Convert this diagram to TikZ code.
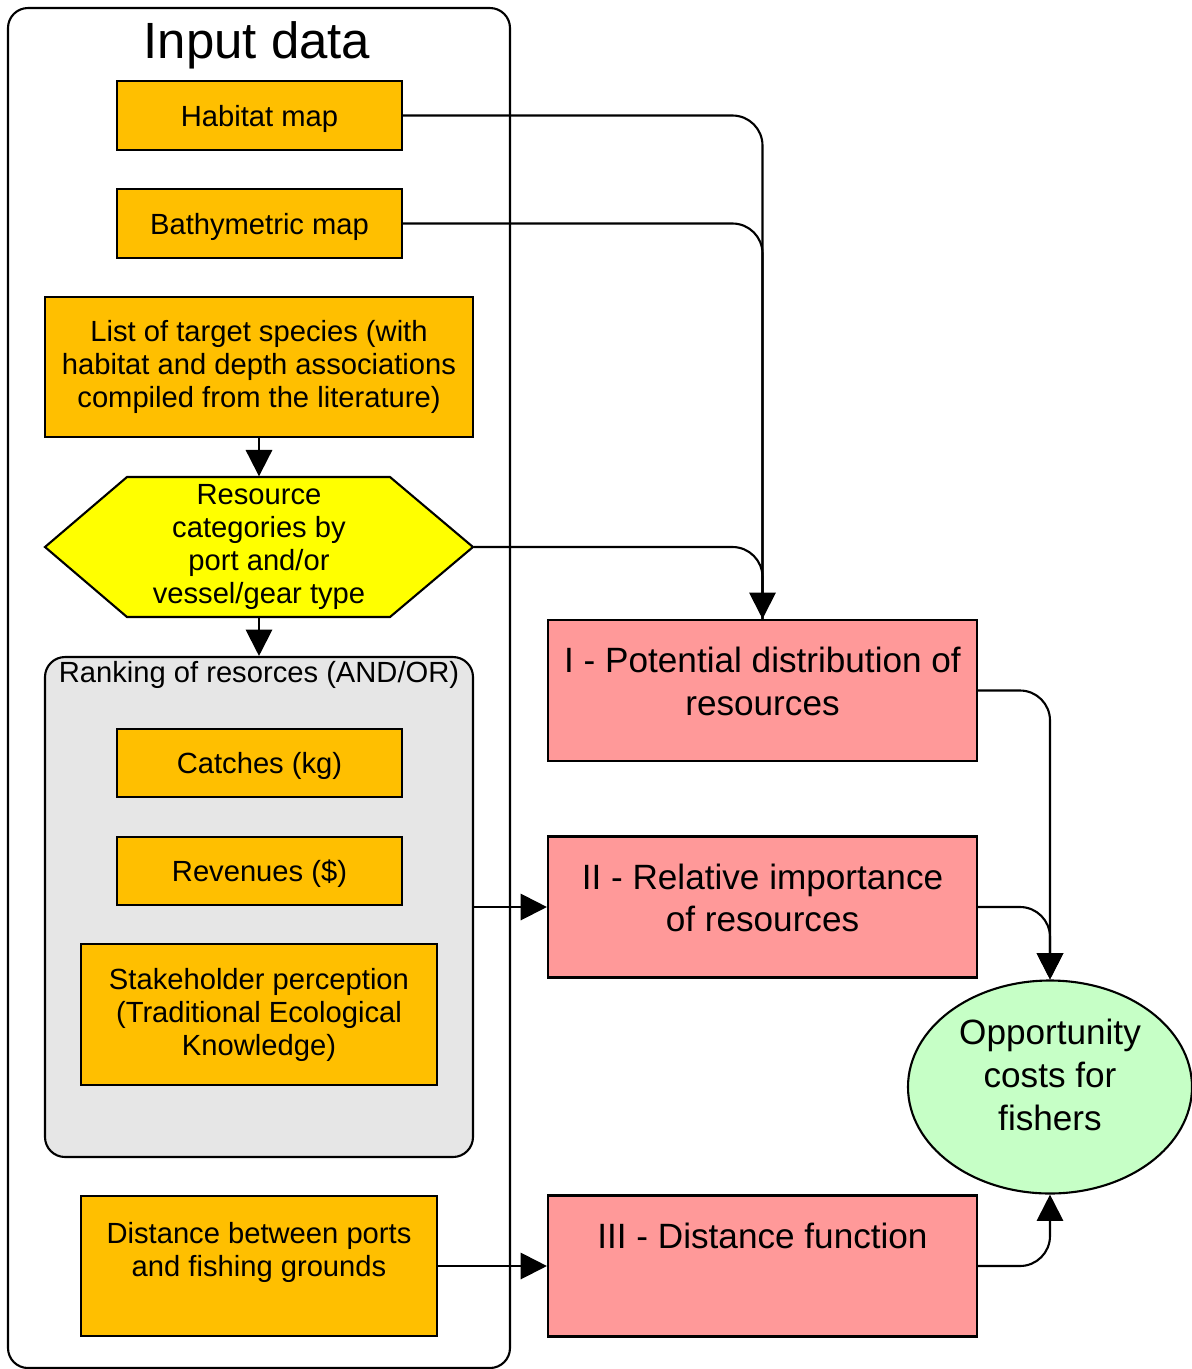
\documentclass[tikz,border=0pt]{standalone}
\usepackage{fontspec}
\setmainfont{Liberation Sans}
\usetikzlibrary{arrows.meta,shapes.geometric}
\definecolor{boxorange}{HTML}{FFBF00}
\definecolor{hexyellow}{HTML}{FFFF00}
\definecolor{stepred}{HTML}{FF9999}
\definecolor{costgreen}{HTML}{C6FFC6}
\definecolor{rankgrey}{HTML}{E6E6E6}
\tikzset{
  inbox/.style={draw, line width=0.6pt, fill=boxorange, align=center,
    font=\fontsize{8.3}{9.4}\selectfont, inner sep=0pt},
  mapbox/.style={inbox, minimum width=28.5mm, minimum height=6.9mm, text depth=0pt},
  stepbox/.style={draw, line width=0.6pt, fill=stepred, minimum width=42.9mm,
    minimum height=14.1mm, inner sep=0pt},
  steptext/.style={align=center, font=\fontsize{10}{12}\selectfont, inner sep=0pt},
  link/.style={line width=0.6pt, rounded corners=3mm},
  flow/.style={link, -{Triangle[length=7.5pt,width=7.5pt]}},
}

\begin{document}
\begin{tikzpicture}[x=0.1mm, y=-0.1mm]
  \useasboundingbox (0,0) rectangle (1192,1369);
  % input data frame
  \draw[line width=0.6pt, rounded corners=2mm] (8,8) rectangle (510,1368);
  \node[font=\fontsize{14.5}{17}\selectfont, text depth=0pt] (title) at (257,40) {Input data};
  \node[mapbox] (habitat) at (259.5,115.5) {Habitat map};
  \node[mapbox] (bathy) at (259.5,223.5) {Bathymetric map};
  \node[inbox, minimum width=42.8mm, minimum height=14mm] (species) at (259,367)
    {List of target species (with\\habitat and depth associations\\compiled from the literature)};
  % hexagon
  \filldraw[line width=0.6pt, fill=hexyellow] (45,547) -- (127,477) -- (390,477) -- (473,547)
    -- (390,617) -- (127,617) -- cycle;
  \node[align=center, font=\fontsize{8.3}{9.4}\selectfont, inner sep=0pt,
    minimum width=42.8mm, minimum height=14mm] (cat) at (259,547)
    {Resource\\categories by\\port and/or\\vessel/gear type};
  % ranking
  \node[draw, line width=0.6pt, fill=rankgrey, rounded corners=2mm, minimum width=42.8mm,
    minimum height=50mm, inner sep=0pt] (rank) at (259,907) {};
  \node[font=\fontsize{8.3}{9.4}\selectfont, text depth=0pt] (ranktitle) at (259,672)
    {Ranking of resorces (AND/OR)};
  \node[mapbox, minimum height=6.8mm] (catches) at (259.5,763) {Catches (kg)};
  \node[mapbox, minimum height=6.8mm] (revenue) at (259.5,871) {Revenues (\$)};
  \node[inbox, minimum width=35.6mm, minimum height=14.1mm] (tek) at (259,1014.5)
    {Stakeholder perception\\(Traditional Ecological\\Knowledge)};
  \node[inbox, minimum width=35.6mm, minimum height=14mm] (distance) at (259,1266)
    {Distance between ports\\and fishing grounds\\\mbox{}};
  % analysis steps
  \node[stepbox, label={[steptext, yshift=0.9mm]center:I - Potential distribution of\\resources}]
    (pot) at (762.5,690.5) {};
  \node[stepbox, label={[steptext, yshift=0.9mm]center:II - Relative importance\\of resources}]
    (rel) at (762.5,907) {};
  \node[stepbox, label={[steptext, yshift=0.9mm]center:III - Distance function\\\mbox{}}]
    (distfn) at (762.5,1266) {};
  \node[draw, line width=0.6pt, fill=costgreen, ellipse, minimum width=28.4mm,
    minimum height=21.3mm, inner sep=0pt,
    label={[steptext, font=\fontsize{10}{12.2}\selectfont, yshift=1.2mm]center:Opportunity\\costs for\\fishers}]
    (cost) at (1050,1087) {};
  % connectors
  \draw[flow] (species.south) -- (cat.north);
  \draw[flow] (cat.south) -- (rank.north);
  \draw[link] (habitat.east) -| (pot.north);
  \draw[link] (bathy.east) -| (pot.north);
  \draw[flow] (cat.east) -| (pot.north);
  \draw[flow] (rank.east) -- (rel.west);
  \draw[flow] (distance.east) -- (distfn.west);
  \draw[flow] (pot.east) -| (cost.north);
  \draw[flow] (rel.east) -| (cost.north);
  \draw[flow] (distfn.east) -| (cost.south);
\end{tikzpicture}
\end{document}
